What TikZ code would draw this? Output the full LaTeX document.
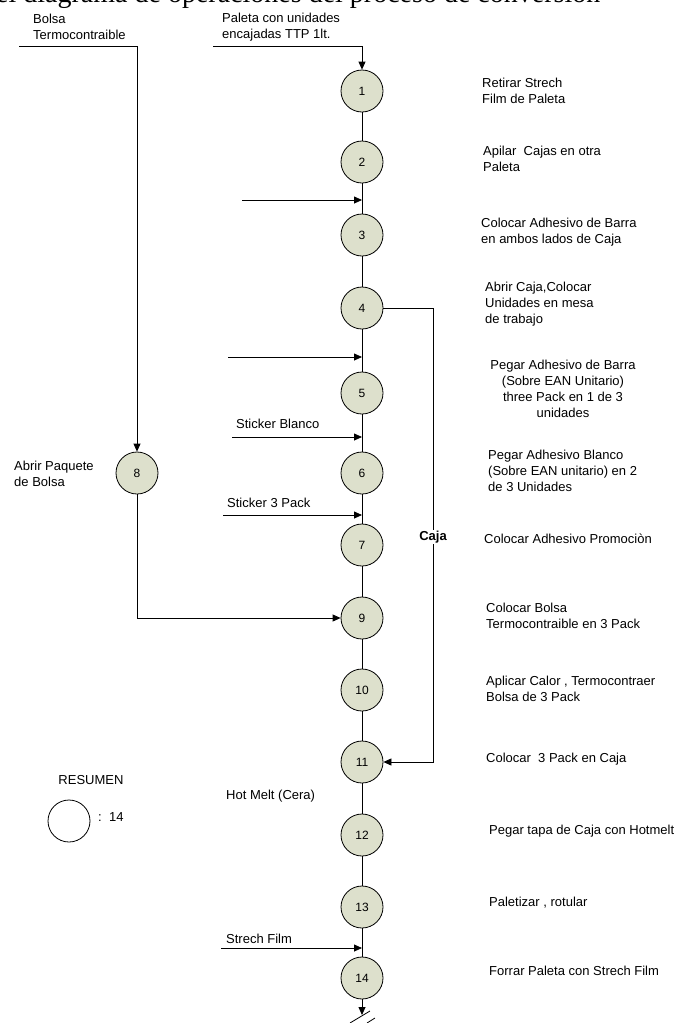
\documentclass[tikz,border=0pt]{standalone}
\usepackage{fontspec}
\setmainfont{Liberation Sans}
\newfontfamily\serifhead{Liberation Serif}
\usetikzlibrary{arrows.meta}
\definecolor{opfill}{RGB}{221,224,204}
\begin{document}
\begin{tikzpicture}[x=1pt,y=-1pt,
  op/.style={circle,draw,line width=0.8pt,fill=opfill,minimum size=42pt,inner sep=0pt,font=\fontsize{12}{14}\selectfont},
  lbl/.style={anchor=west,align=left,font=\fontsize{13}{16}\selectfont,inner sep=0pt},
  ln/.style={line width=0.8pt},
  arr/.style={ln,-{Triangle[length=8pt,width=7pt]}}]
\useasboundingbox[fill=white] (0,0) rectangle (680,1023);

% cut-off heading
\node[anchor=base west,inner sep=0pt,font=\serifhead\fontsize{28}{28}\selectfont] (head) at (-4,2) {el diagrama de operaciones del proceso de conversión};

% operations
\node[op] (c1) at (362,91) {1};
\node[op] (c2) at (362,162) {2};
\node[op] (c3) at (362,235) {3};
\node[op] (c4) at (362,308) {4};
\node[op] (c5) at (362,393) {5};
\node[op] (c6) at (362,473) {6};
\node[op] (c7) at (362,545) {7};
\node[op] (c8) at (137,473) {8};
\node[op] (c9) at (362,618) {9};
\node[op] (c10) at (362,690) {10};
\node[op] (c11) at (362,762) {11};
\node[op] (c12) at (362,835) {12};
\node[op] (c13) at (362,907) {13};
\node[op] (c14) at (362,978) {14};

% main chain
\draw[ln] (c1) -- (c2) -- (c3) -- (c4) -- (c5) -- (c6) -- (c7) -- (c9) -- (c10) -- (c11) -- (c12) -- (c13) -- (c14);

% inputs
\node[lbl] (tbolsa) at (33,27) {Bolsa\\Termocontraible};
\node[lbl] (tpaleta) at (222,27) {Paleta con unidades\\encajadas TTP 1lt.};
\coordinate (b0) at (19,46);
\coordinate (p0) at (213,46);
\draw[arr] (b0) -| (c8.north);
\draw[arr] (p0) -| (c1.north);

\coordinate (s1) at (242,200);  \coordinate (j1) at (362,200);
\coordinate (s2) at (228,357);  \coordinate (j2) at (362,357);
\coordinate (s3) at (232,437);  \coordinate (j3) at (362,437);
\coordinate (s4) at (223,515);  \coordinate (j4) at (362,515);
\coordinate (s5) at (221,948);  \coordinate (j5) at (362,948);
\draw[arr] (s1) -- (j1);
\draw[arr] (s2) -- (j2);
\draw[arr] (s3) -- (j3);
\draw[arr] (s4) -- (j4);
\draw[arr] (s5) -- (j5);
\node[lbl,anchor=base west] (tsb) at (236,428) {Sticker Blanco};
\node[lbl,anchor=base west] (ts3) at (227,507) {Sticker 3 Pack};
\node[lbl,anchor=base west] (tsf) at (226,943) {Strech Film};
\node[lbl,anchor=base west] (thm) at (226,799) {Hot Melt (Cera)};

% bag branch
\draw[arr] (c8.south) |- (c9.west);
\node[lbl] (t8) at (14,474) {Abrir Paquete\\de Bolsa};

% box branch
\coordinate (k) at (433,308);
\draw[arr] (c4.east) -- (k) |- (c11.east);
\node[fill=white,inner sep=1pt,font=\bfseries\fontsize{13}{16}\selectfont] (caja) at (433,537) {Caja};

% end
\coordinate (endtip) at (362,1015);
\draw[arr] (c14.south) -- (endtip);
\coordinate (z1) at (350,1023); \coordinate (z2) at (370,1011);
\coordinate (z3) at (367,1023); \coordinate (z4) at (375,1018);
\draw[ln] (z1) -- (z2);
\draw[ln] (z3) -- (z4);

% right-hand descriptions
\node[lbl] (d1) at (482,91) {Retirar Strech\\Film de Paleta};
\node[lbl] (d2) at (483,159) {Apilar\ \ Cajas en otra\\Paleta};
\node[lbl] (d3) at (481,232) {Colocar Adhesivo de Barra\\en ambos lados de Caja};
\node[lbl] (d4) at (485,304) {Abrir Caja,Colocar\\Unidades en mesa\\de trabajo};
\node[lbl,anchor=center,align=center] (d5) at (563,389) {Pegar Adhesivo de Barra\\(Sobre EAN Unitario)\\three Pack en 1 de 3\\unidades};
\node[lbl] (d6) at (488,471) {Pegar Adhesivo Blanco\\(Sobre EAN unitario) en 2\\de 3 Unidades};
\node[lbl] (d7) at (484,539) {Colocar Adhesivo Promociòn};
\node[lbl] (d9) at (486,616) {Colocar Bolsa\\Termocontraible en 3 Pack};
\node[lbl] (d10) at (486,689) {Aplicar Calor , Termocontraer\\Bolsa de 3 Pack};
\node[lbl] (d11) at (486,759) {Colocar\ \ 3 Pack en Caja};
\node[lbl] (d12) at (489,831) {Pegar tapa de Caja con Hotmelt};
\node[lbl] (d13) at (489,903) {Paletizar , rotular};
\node[lbl] (d14) at (489,971) {Forrar Paleta con Strech Film};

% summary
\node[lbl,anchor=center] (res) at (91,780) {RESUMEN};
\node[circle,draw,line width=0.8pt,minimum size=42pt,inner sep=0pt] (rc) at (69,821) {};
\node[lbl] (rn) at (98,817) {:\ \ 14};
\end{tikzpicture}
\end{document}
